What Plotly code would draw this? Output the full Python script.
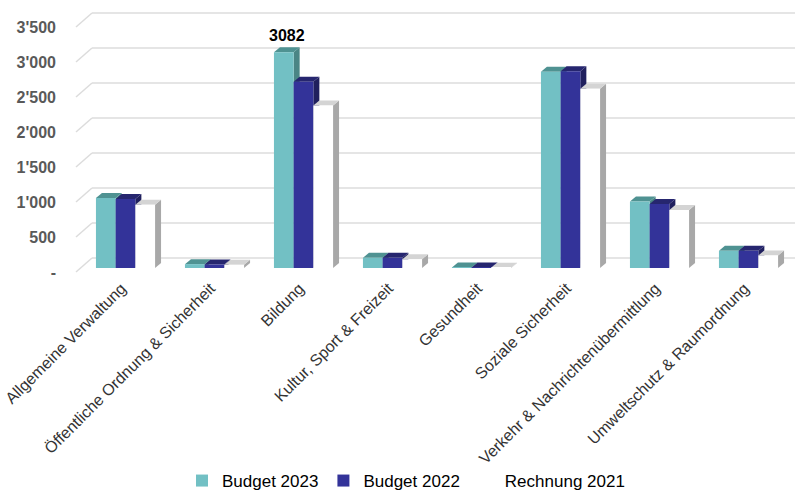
import plotly.graph_objects as go

categories = ["Allgemeine Verwaltung", "Öffentliche Ordnung & Sicherheit", "Bildung",
              "Kultur, Sport & Freizeit", "Gesundheit", "Soziale Sicherheit",
              "Verkehr & Nachrichtenübermittlung", "Umweltschutz & Raumordnung"]
budget_2023 = [1000, 55, 3082, 145, 8, 2805, 950, 245]
budget_2022 = [985, 50, 2660, 145, 8, 2810, 915, 245]
rechnung_2021 = [905, 45, 2320, 125, 5, 2560, 830, 180]
series_names = ["Budget 2023", "Budget 2022", "Rechnung 2021"]
y_ticks = [0, 500, 1000, 1500, 2000, 2500, 3000, 3500]
y_ticktext = ["-", "500", "1'000", "1'500", "2'000", "2'500", "3'000", "3'500"]

front_colors = ["#72C0C4", "#333399", "#FFFFFF"]
top_colors = ["#4F9292", "#26266F", "#D4D4D4"]
side_colors = ["#4A8585", "#20205E", "#A8A8A8"]

FONT = "Liberation Sans, Arial, sans-serif"

# layout geometry
W, H = 798, 490
ML, MR, MT, MB = 81, 5, 9, 215
plot_w = W - ML - MR
plot_h = H - MT - MB
n = len(categories)
x_range = [-0.5, n - 0.5]
y_range = [-100, 3700]
px_x = plot_w / (x_range[1] - x_range[0])
px_y = plot_h / (y_range[1] - y_range[0])
zero_px = H - MB + y_range[0] * px_y

bar_w = 19.7 / px_x
depth_dx = 6 / px_x
depth_dy = 5 / px_y

all_series = [budget_2023, budget_2022, rechnung_2021]
idx = list(range(n))

fig = go.Figure()
shapes = []

def paper_x(px):
    return (px - ML) / plot_w

def paper_y(py):
    return (H - MB - py) / plot_h

# back-wall gridlines with left diagonals
for v in y_ticks:
    vy = zero_px - v * px_y
    shapes.append(dict(type="line", xref="paper", yref="paper",
                       x0=paper_x(ML + 11), x1=paper_x(W - 3),
                       y0=paper_y(vy - 10), y1=paper_y(vy - 10),
                       line=dict(color="#DCDCDC", width=1.5), layer="below"))
    shapes.append(dict(type="line", xref="paper", yref="paper",
                       x0=paper_x(ML - 5), x1=paper_x(ML + 11),
                       y0=paper_y(vy + 4), y1=paper_y(vy - 10),
                       line=dict(color="#DCDCDC", width=1.5), layer="below"))

for s, (name, vals) in enumerate(zip(series_names, all_series)):
    off = (s - 1.5) * bar_w
    for i, v in enumerate(vals):
        x0 = i + off
        x1 = x0 + bar_w
        # side face
        shapes.append(dict(type="path", xref="x", yref="y", layer="between",
                           path=f"M {x1} 0 L {x1 + depth_dx} {depth_dy} L {x1 + depth_dx} {v + depth_dy} L {x1} {v} Z",
                           fillcolor=side_colors[s], line=dict(width=0)))
        # top face
        shapes.append(dict(type="path", xref="x", yref="y", layer="between",
                           path=f"M {x0} {v} L {x1} {v} L {x1 + depth_dx} {v + depth_dy} L {x0 + depth_dx} {v + depth_dy} Z",
                           fillcolor=top_colors[s], line=dict(width=0)))
    fig.add_trace(go.Bar(x=idx, y=vals, name=name, width=bar_w, offset=off,
                         marker=dict(color=front_colors[s], line=dict(width=0)),
                         hoverinfo="y"))

# invisible trace for label axis
fig.add_trace(go.Scatter(x=[0], y=[0], yaxis="y2", mode="markers",
                         marker=dict(opacity=0), showlegend=False, hoverinfo="skip"))

fig.add_annotation(x=2 - 1.0 * bar_w + depth_dx / 2, y=budget_2023[2] + depth_dy,
                   text="<b>3082</b>", showarrow=False, yanchor="bottom", yshift=1,
                   font=dict(family=FONT, size=16, color="#000000"))

label_shift = 4 / px_x
fig.update_layout(
    width=W, height=H,
    margin=dict(l=ML, r=MR, t=MT, b=MB, autoexpand=False),
    paper_bgcolor="white", plot_bgcolor="rgba(0,0,0,0)",
    barmode="overlay",
    shapes=shapes,
    font=dict(family=FONT),
    xaxis=dict(range=x_range, tickmode="array", tickvals=[i - label_shift for i in idx],
               ticktext=categories,
               tickangle=-45, showgrid=False, zeroline=False, showline=False,
               ticks="", ticklabelstandoff=0, automargin=False,
               tickfont=dict(family=FONT, size=16, color="#333333")),
    yaxis=dict(range=y_range, showgrid=False, zeroline=False, showline=False,
               showticklabels=False, ticks="", automargin=False),
    yaxis2=dict(range=[y_range[0] + 4 / px_y, y_range[1] + 4 / px_y], overlaying="y",
                side="left", tickmode="array", tickvals=y_ticks, ticktext=y_ticktext,
                showgrid=False, zeroline=False, showline=False, ticks="",
                ticklabelstandoff=24, automargin=False,
                tickfont=dict(family=FONT, size=16, color="#595959", weight="bold")),
    legend=dict(orientation="h", x=paper_x(182), xanchor="left",
                y=paper_y(481), yanchor="middle",
                font=dict(family=FONT, size=17, color="#000000"),
                bgcolor="rgba(0,0,0,0)"),
    showlegend=True,
)

fig.write_html("out.html")
